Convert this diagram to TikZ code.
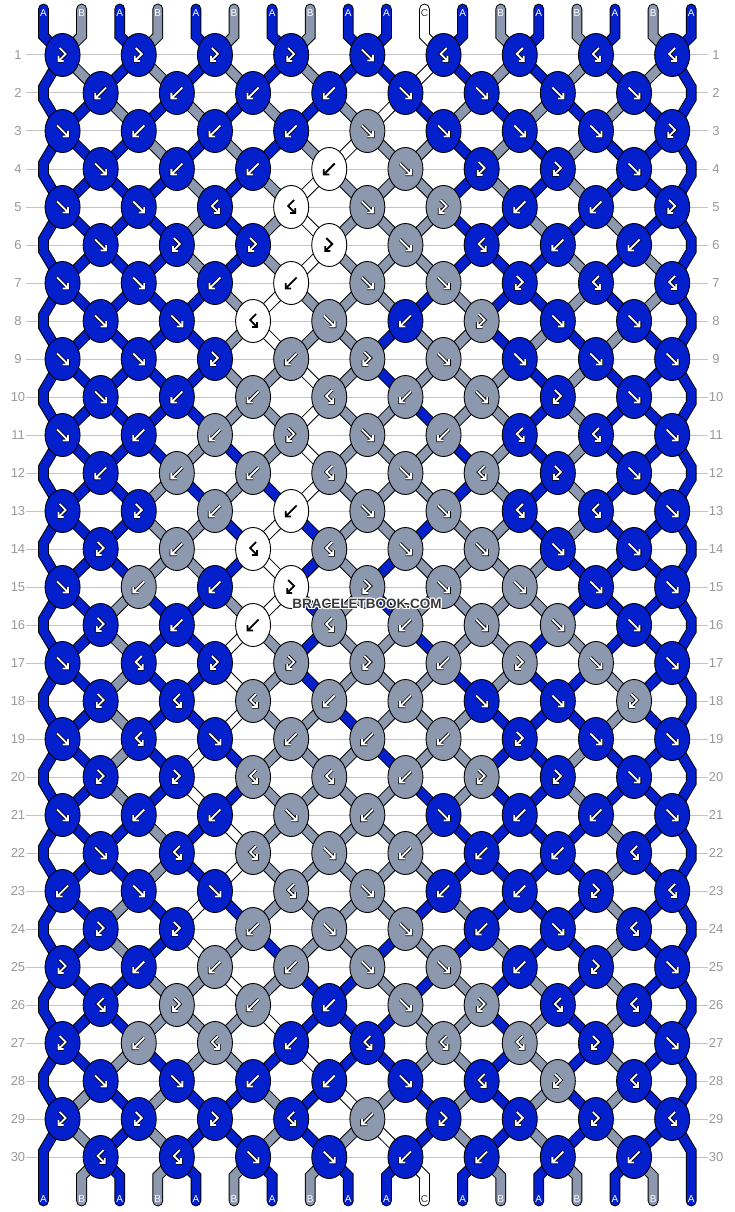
\documentclass[tikz,border=0pt]{standalone}
\usepackage{fontspec}
\setmainfont{Liberation Sans}
\usetikzlibrary{shapes.geometric,calc}
\definecolor{colA}{HTML}{0320CC}
\definecolor{colB}{HTML}{8C98AE}
\definecolor{colC}{HTML}{FFFFFF}
\definecolor{rowgray}{HTML}{C4C4C4}
\definecolor{numgray}{HTML}{999999}
\tikzset{
  rowline/.style={draw=rowgray,line width=1pt},
  rownum/.style={text=numgray,font=\fontsize{13}{13}\selectfont,inner sep=0pt},
  strout/.style={draw=black,line width=10.8pt,line cap=round,line join=miter},
  strfill/.style={line width=8.8pt,line cap=round,line join=miter},
  knot/.style={ellipse,draw=black,line width=0.9pt,minimum width=35pt,minimum height=43pt,inner sep=0pt},
  glout/.style={draw=black,line width=3.4pt,line join=miter},
  glin/.style={line width=1.8pt,line join=miter},
  lab/.style={font=\fontsize{10}{10}\selectfont,inner sep=0pt},
  wm/.style={font=\bfseries\fontsize{13.5}{13.5}\selectfont,inner sep=0pt}
}
\newcommand\strseg[2]{\draw[strout] #2; \draw[strfill,draw=#1] #2;}
\def\gF{(-5.5,-5.5)--(5.5,5.5) (0,5.5)--(5.5,5.5)--(5.5,0)}
\def\gB{(5.5,-5.5)--(-5.5,5.5) (0,5.5)--(-5.5,5.5)--(-5.5,0)}
\def\gZ{(-3,-7)--(3,-1)--(-4,6) (1,6)--(-4,6)--(-4,1)}
\def\gS{(3,-7)--(-3,-1)--(4,6) (-1,6)--(4,6)--(4,1)}
\def\wname{colC}
\def\tyF{F}\def\tyB{B}\def\tyZ{Z}\def\tyS{S}\def\tyC{C}
\def\initcols{A,B,A,B,A,B,A,B,A,A,C,A,B,A,B,A,B,A}
\newcount\RR \newcount\KK \newcount\NK \newcount\PP \newcount\QQ
\def\defrow#1#2{\def\currow{#1}\global\KK=0 \defrowchars#2\relax
  \expandafter\xdef\csname nk#1\endcsname{\the\KK}}
\def\defrowchars#1{\ifx\relax#1\else\global\advance\KK by 1
  \expandafter\xdef\csname ty\currow-\the\KK\endcsname{#1}\expandafter\defrowchars\fi}
\defrow{1}{ZZZZFSSSS}
\defrow{2}{BBBBFFFF}
\defrow{3}{FBBBFFFFZ}
\defrow{4}{FBBBFZZF}
\defrow{5}{FFSSFZBBZ}
\defrow{6}{FZZZFSBB}
\defrow{7}{FFBBFFZSS}
\defrow{8}{FFSFBZFF}
\defrow{9}{FFZBZFFFF}
\defrow{10}{FBBSBFZF}
\defrow{11}{FBBZFBSSF}
\defrow{12}{BBBSFSZF}
\defrow{13}{ZZBBFFSSF}
\defrow{14}{ZBSSFFFF}
\defrow{15}{FBBZZFFFF}
\defrow{16}{ZBBSBFFF}
\defrow{17}{FSZZZBZFF}
\defrow{18}{ZSSBBFFZ}
\defrow{19}{FSFBBBZFF}
\defrow{20}{ZZSSBZZF}
\defrow{21}{FBBFBFBBF}
\defrow{22}{FSSFBBBS}
\defrow{23}{BFFSFBBZS}
\defrow{24}{ZZBFFBFS}
\defrow{25}{ZBBBFFBZF}
\defrow{26}{SZBBFZSS}
\defrow{27}{ZBSBSSSZF}
\defrow{28}{FFBBFSZS}
\defrow{29}{ZZZSBZZZS}
\defrow{30}{SSFFBBBB}
\def\doswap{\expandafter\xdef\csname sc\pp\endcsname{\colq}\expandafter\xdef\csname sc\qq\endcsname{\colp}}
\def\simknot{%
  \edef\rr{\the\RR}\edef\kk{\the\KK}%
  \edef\mytype{\csname ty\rr-\kk\endcsname}%
  \ifodd\RR \PP=\numexpr2*\KK-1\relax\else\PP=\numexpr2*\KK\relax\fi
  \QQ=\numexpr\PP+1\relax
  \edef\pp{\the\PP}\edef\qq{\the\QQ}%
  \pgfmathsetmacro\kx{43.5+38.1*(\pp-1)+19.05}%
  \pgfmathsetmacro\ky{55+38*(\rr-1)}%
  \coordinate (K-\rr-\kk) at (\kx,\ky);%
  \edef\mytmp{\noexpand\strseg{\csname sc\pp\endcsname}{\csname lp\pp\endcsname -- (K-\rr-\kk)}}\mytmp
  \edef\mytmp{\noexpand\strseg{\csname sc\qq\endcsname}{\csname lp\qq\endcsname -- (K-\rr-\kk)}}\mytmp
  \edef\colp{\csname sc\pp\endcsname}\edef\colq{\csname sc\qq\endcsname}%
  \ifx\mytype\tyF \expandafter\xdef\csname kc\rr-\kk\endcsname{\colp}\doswap\fi
  \ifx\mytype\tyB \expandafter\xdef\csname kc\rr-\kk\endcsname{\colq}\doswap\fi
  \ifx\mytype\tyZ \expandafter\xdef\csname kc\rr-\kk\endcsname{\colp}\fi
  \ifx\mytype\tyS \expandafter\xdef\csname kc\rr-\kk\endcsname{\colq}\fi
  \expandafter\xdef\csname lp\pp\endcsname{(K-\rr-\kk)}%
  \expandafter\xdef\csname lp\qq\endcsname{(K-\rr-\kk)}%
}
\def\edgestep{%
  \ifodd\RR\else
    \pgfmathsetmacro\ky{55+38*(\the\RR-1)}%
    \pgfmathsetmacro\ya{\ky-6}\pgfmathsetmacro\yb{\ky+6}%
    \expandafter\xdef\csname lp1\endcsname{\csname lp1\endcsname -- (43.5,\ya) -- (43.5,\yb)}%
    \expandafter\xdef\csname lp18\endcsname{\csname lp18\endcsname -- (691.2,\ya) -- (691.2,\yb)}%
  \fi}
\def\drawknot{%
  \edef\rr{\the\RR}\edef\kk{\the\KK}%
  \edef\mytype{\csname ty\rr-\kk\endcsname}%
  \ifcsname kc\rr-\kk\endcsname \edef\kcol{\csname kc\rr-\kk\endcsname}\else\def\kcol{red}\fi
  \node[knot,fill=\kcol] (N-\rr-\kk) at (K-\rr-\kk) {};%
  \ifx\kcol\wname
    \edef\mytmp{\noexpand\draw[glin,draw=black,shift={(K-\rr-\kk)}] \csname g\mytype\endcsname;}%
  \else
    \edef\mytmp{\noexpand\draw[glout,shift={(K-\rr-\kk)}] \csname g\mytype\endcsname; \noexpand\draw[glin,draw=white,shift={(K-\rr-\kk)}] \csname g\mytype\endcsname;}%
  \fi
  \mytmp
}
\def\knotloopA{\ifnum\KK<\NK \global\advance\KK by 1 \simknot\expandafter\knotloopA\fi}
\def\rowloopA{\ifnum\RR<30 \global\advance\RR by 1 \global\KK=0 \NK=\csname nk\the\RR\endcsname\relax
  \knotloopA\edgestep\expandafter\rowloopA\fi}
\def\knotloopB{\ifnum\KK<\NK \global\advance\KK by 1 \drawknot\expandafter\knotloopB\fi}
\def\rowloopB{\ifnum\RR<30 \global\advance\RR by 1 \global\KK=0 \NK=\csname nk\the\RR\endcsname\relax
  \knotloopB\expandafter\rowloopB\fi}
\begin{document}
\begin{tikzpicture}[x=1pt,y=-1pt]
\useasboundingbox (0,0) rectangle (734,1212);
\fill[white] (0,0) rectangle (734,1212);
% row guide lines and numbers
\foreach \rn in {1,...,30}{
  \pgfmathsetmacro\yy{55+38*(\rn-1)}
  \draw[rowline] (26,\yy) coordinate (LA\rn) -- (708,\yy) coordinate (LB\rn);
  \node[rownum] (nl\rn) at (18,\yy) {\rn};
  \node[rownum] (nr\rn) at (716,\yy) {\rn};
}
% initial strings
\foreach \s [count=\sn] in \initcols {
  \pgfmathsetmacro\xx{43.5+38.1*(\sn-1)}
  \expandafter\xdef\csname sc\sn\endcsname{col\s}
  \expandafter\xdef\csname lp\sn\endcsname{(\xx,9) -- (\xx,36)}
}
% simulate knots and draw strings
\global\RR=0
\rowloopA
% final string ends
\foreach \sn in {1,...,18}{
  \pgfmathsetmacro\xx{43.5+38.1*(\sn-1)}
  \edef\mytmp{\noexpand\strseg{\csname sc\sn\endcsname}{\csname lp\sn\endcsname -- (\xx,1176) -- (\xx,1201)}}\mytmp
}
% knots
\global\RR=0
\rowloopB
% string labels
\foreach \s [count=\sn] in \initcols {
  \pgfmathsetmacro\xx{43.5+38.1*(\sn-1)}
  \edef\mys{\s}
  \ifx\mys\tyC \def\lc{black!75}\else\def\lc{white}\fi
  \node[lab,text=\lc] (TL\sn) at (\xx,13) {\s};
  \node[lab,text=\lc] (BL\sn) at (\xx,1199) {\s};
}
% watermark
\foreach \dx/\dy [count=\i] in {-1/0,1/0,0/-1,0/1,-1/-1,1/1,-1/1,1/-1}
  \node[wm,text=white] (wmh\i) at (367+\dx,604+\dy) {BRACELETBOOK.COM};
\node[wm,text=black!78] (wm) at (367,604) {BRACELETBOOK.COM};
\end{tikzpicture}
\end{document}
